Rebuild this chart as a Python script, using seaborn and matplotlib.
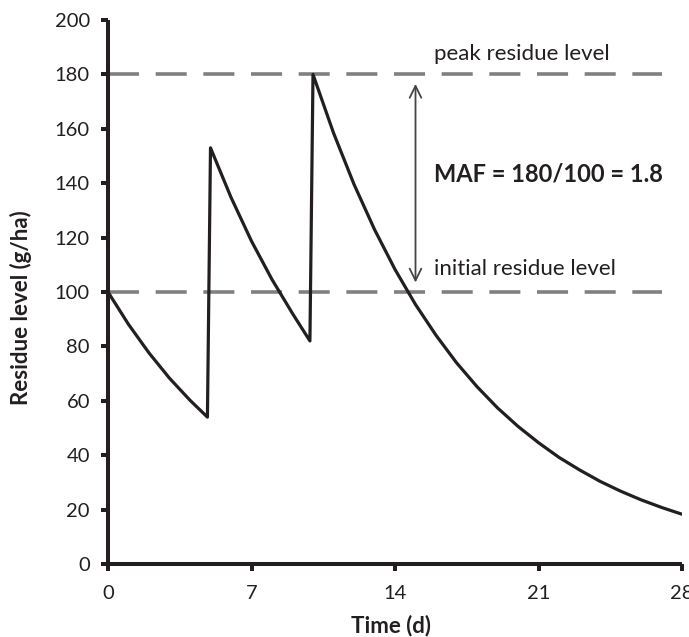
import matplotlib
matplotlib.use("Agg")
import matplotlib.pyplot as plt
import seaborn as sns
import pandas as pd

# Data
time_d = [0, 1, 2, 3, 4, 4.85,
          5, 6, 7, 8, 9, 9.85,
          10, 11, 12, 13, 14, 15, 16, 17, 18, 19, 20, 21, 22, 23, 24, 25, 26, 27, 28]
residue = [100, 88.1, 77.6, 68.3, 60.2, 54,
           153, 134.8, 118.7, 104.6, 92.1, 82,
           180, 158.5, 139.6, 123.0, 108.3, 95.4, 84.1, 74.0, 65.2, 57.4, 50.6,
           44.6, 39.2, 34.6, 30.4, 26.8, 23.6, 20.8, 18.3]
x_ticks = [0, 7, 14, 21, 28]
y_ticks = [0, 20, 40, 60, 80, 100, 120, 140, 160, 180, 200]
peak_level = 180
initial_level = 100
ref_line_end = 27
maf_text = "MAF = 180/100 = 1.8"

sns.set_style("white")
plt.rcParams['font.family'] = ['Lato', 'DejaVu Sans']

df = pd.DataFrame({"Time (d)": time_d, "Residue level (g/ha)": residue})

fig = plt.figure(figsize=(6.89, 6.37), dpi=100)
ax = fig.add_axes([108/689, 1 - 564/637, (682-108)/689, (564-20)/637])

ink = "#231f20"
gray = "#808080"

# reference dashed lines
for lvl in (peak_level, initial_level):
    ax.plot([0, ref_line_end], [lvl, lvl], color=gray, lw=2.6,
            linestyle=(0, (8.6, 4.6)), solid_capstyle='butt', zorder=1)

sns.lineplot(data=df, x="Time (d)", y="Residue level (g/ha)", ax=ax,
             color=ink, lw=2.3, estimator=None, sort=False, zorder=3)

# double arrow
ax.annotate('', xy=(15, 103.5), xytext=(15, 176.5),
            arrowprops=dict(arrowstyle='<->,head_length=0.85,head_width=0.42',
                            color='#444444', lw=1.3, shrinkA=0, shrinkB=0))

ax.text(15.9, 187.5, "peak residue level", fontsize=16, color=ink,
        va='center', ha='left')
ax.text(15.9, 108.5, "initial residue level", fontsize=16, color=ink,
        va='center', ha='left')
ax.text(15.9, 143.5, maf_text, fontsize=17, fontweight='bold', color=ink,
        va='center', ha='left')

ax.set_xlim(0, 28)
ax.set_ylim(0, 200)
ax.set_xticks(x_ticks)
ax.set_yticks(y_ticks)
ax.tick_params(axis='both', direction='out', length=5, width=2.9, color=ink,
               labelsize=14.5, labelcolor=ink, bottom=True, left=True)
ax.tick_params(axis='y', pad=8)
ax.tick_params(axis='x', pad=10)

for side in ('top', 'right'):
    ax.spines[side].set_visible(False)
for side in ('left', 'bottom'):
    ax.spines[side].set_linewidth(2.9)
    ax.spines[side].set_color(ink)
    ax.spines[side].set_capstyle('butt')

ax.set_xlabel("Time (d)", fontsize=16, fontweight='bold', color=ink)
ax.set_ylabel("Residue level (g/ha)", fontsize=16, fontweight='bold', color=ink)
ax.xaxis.set_label_coords(0.493, -0.094)
ax.yaxis.set_label_coords(-0.132, 0.472)

fig.savefig("out.png", dpi=100)
